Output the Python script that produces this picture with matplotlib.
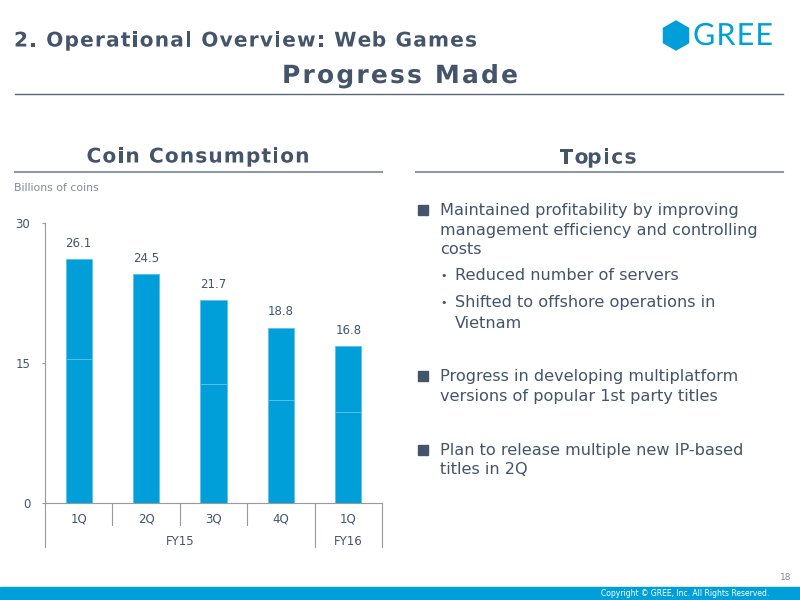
import matplotlib
matplotlib.use("Agg")
import matplotlib.pyplot as plt
import matplotlib.patheffects as pe
from matplotlib.patches import RegularPolygon, Rectangle
from matplotlib.font_manager import FontProperties
from matplotlib.textpath import text_to_path

# chart data (billions of coins)
quarters = ["1Q", "2Q", "3Q", "4Q", "1Q"]
years = ["FY15", "FY16"]
year_span = [(-0.5, 3.5), (3.5, 4.5)]
totals = [26.1, 24.5, 21.7, 18.8, 16.8]
lower_part = [15.4, 24.5, 12.7, 11.0, 9.8]
upper_part = [t - l for t, l in zip(totals, lower_part)]
yticks = [0, 15, 30]

blue = "#009FDA"
slate = "#44546A"
grey = "#7F8A96"

plt.rcParams["font.family"] = "DejaVu Sans"

fig = plt.figure(figsize=(8, 6), dpi=100)

# background layer in pixel coords for slide decorations
bg = fig.add_axes([0, 0, 1, 1])
bg.set_xlim(0, 800)
bg.set_ylim(600, 0)
bg.axis("off")

smooth = [pe.Normal()]  # draws glyphs as paths -> no pixel snapping per char


def text_w(s, fp):
    # width in px, sentinel keeps trailing spaces
    w, _, _ = text_to_path.get_text_width_height_descent(s + "|", fp, ismath=False)
    w0, _, _ = text_to_path.get_text_width_height_descent("|", fp, ismath=False)
    return (w - w0) * 100 / 72


def spaced(x, y, s, size, color, weight="bold", family="DejaVu Sans",
           width=None, ha="left"):
    # headings have wide letter spacing, so draw them char by char
    fp = FontProperties(family=family, size=size, weight=weight)
    natural = text_w(s, fp)
    track = (width - natural) / (len(s) - 1)
    if ha == "center":
        x = x - width / 2
    for i, ch in enumerate(s):
        if ch == " ":
            continue
        xi = x + text_w(s[:i], fp) + track * i
        bg.text(xi, y, ch, fontproperties=fp, color=color, va="center", ha="left",
                path_effects=smooth)


spaced(14, 41, "2. Operational Overview: Web Games", 14.5, slate, width=463)
spaced(400, 76, "Progress Made", 18, slate, width=236, ha="center")
bg.plot([15, 783], [94, 94], color="#5A6878", lw=1)

# logo
bg.add_patch(RegularPolygon((676, 35.5), 6, radius=14.5, orientation=0, color=blue))
spaced(693, 36, "GREE", 22, blue, weight="normal", family="Lato", width=80)

spaced(198, 157, "Coin Consumption", 14.5, slate, width=223, ha="center")
bg.plot([15, 382], [172, 172], color="#8C98A4", lw=1.5)
spaced(598, 158, "Topics", 14.5, slate, width=77, ha="center")
bg.plot([416, 783], [172, 172], color="#8C98A4", lw=1.5)

bg.text(14, 188, "Billions of coins", fontsize=7.8, color=grey, va="center", ha="left")

# topics list
body = 11.6
bullets = [
    (210, ["Maintained profitability by improving",
           "management efficiency and controlling", "costs"]),
    (376, ["Progress in developing multiplatform",
           "versions of popular 1st party titles"]),
    (450, ["Plan to release multiple new IP-based", "titles in 2Q"]),
]
for y0, lines in bullets:
    bg.add_patch(Rectangle((418, y0 - 5), 10, 10, color=slate))
    for i, ln in enumerate(lines):
        bg.text(440, y0 + i * 20, ln, fontsize=body, color=slate, va="center", ha="left")

subs = [(276, ["Reduced number of servers"]),
        (303, ["Shifted to offshore operations in", "Vietnam"])]
for y0, lines in subs:
    bg.text(444, y0, "\u2022", fontsize=8, color=slate, va="center", ha="center")
    for i, ln in enumerate(lines):
        bg.text(455, y0 + i * 20, ln, fontsize=body, color=slate, va="center", ha="left")

# footer
bg.add_patch(Rectangle((0, 587), 800, 13, color=blue))
bg.text(685, 593.5, "Copyright \u00a9 GREE, Inc. All Rights Reserved.", fontsize=5.5,
        color="white", va="center", ha="center")
bg.text(791, 577, "18", fontsize=6.5, color=grey, va="center", ha="right")

# bar chart
ax = fig.add_axes([45 / 800, 97 / 600, 337 / 800, 280 / 600])
x = list(range(len(totals)))
ax.bar(x, lower_part, width=0.39, color=blue, edgecolor="#5BC2EA", linewidth=0.6)
ax.bar(x, upper_part, bottom=lower_part, width=0.39, color=blue,
       edgecolor="#5BC2EA", linewidth=0.6)
for xi, t in zip(x, totals):
    ax.text(xi, t + 1.0, f"{t:.1f}", ha="center", va="bottom", fontsize=8.5, color=slate)

ax.set_xlim(-0.5, 4.5)
ax.set_ylim(0, 30)
ax.set_yticks(yticks)
ax.set_yticklabels([str(v) for v in yticks], fontsize=8.5, color=slate)
ax.tick_params(axis="y", length=2.5, color="#999999", pad=8)
ax.set_xticks([])
for s in ["top", "right"]:
    ax.spines[s].set_visible(False)
ax.spines["left"].set_color("#999999")
ax.spines["bottom"].set_color("#999999")

tr = ax.get_xaxis_transform()
for b in [-0.5, 0.5, 1.5, 2.5, 3.5, 4.5]:
    bottom = -0.157 if b in (-0.5, 3.5, 4.5) else -0.079
    ax.plot([b, b], [0, bottom], transform=tr, color="#999999", lw=0.8, clip_on=False)
for xi, q in zip(x, quarters):
    ax.text(xi, -0.057, q, transform=tr, ha="center", va="center", fontsize=8.5, color=slate)
for (a, b), yr in zip(year_span, years):
    ax.text((a + b) / 2, -0.136, yr, transform=tr, ha="center", va="center",
            fontsize=8.5, color=slate)

fig.savefig("out.png", dpi=100)
